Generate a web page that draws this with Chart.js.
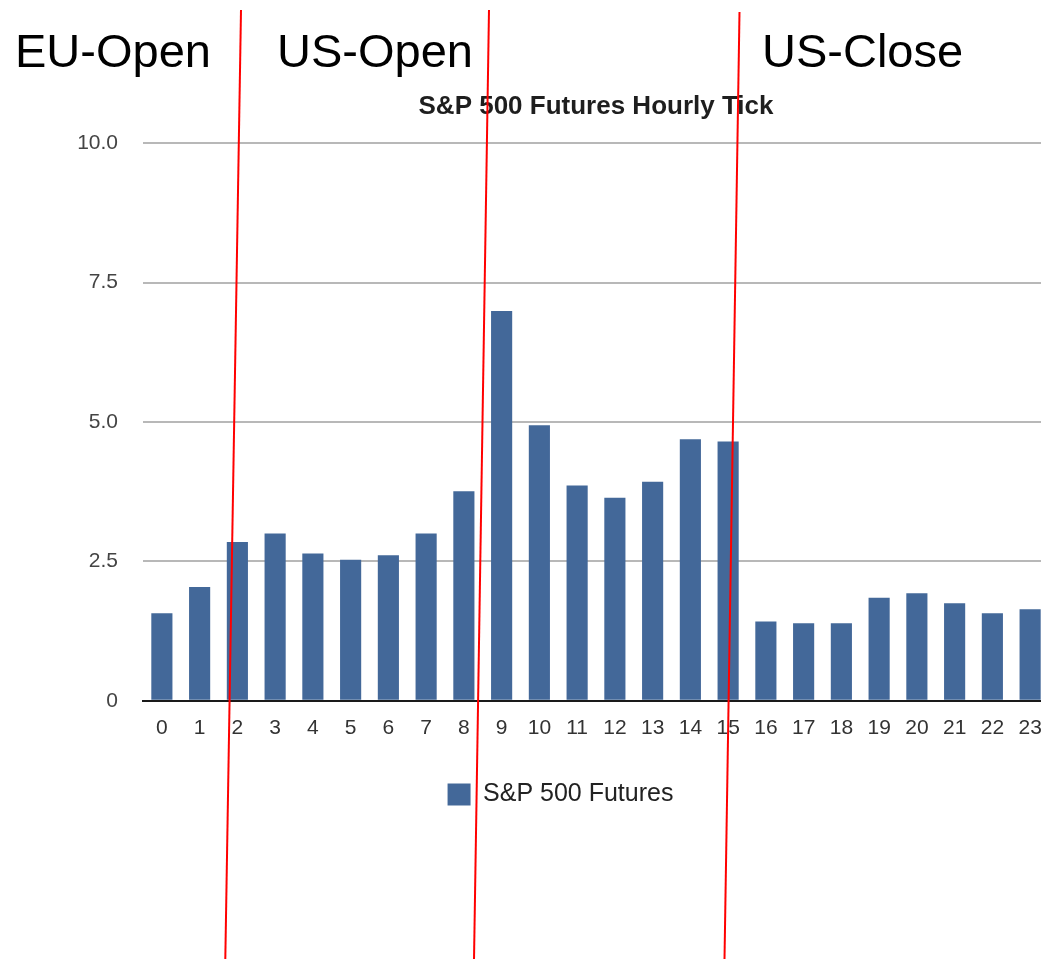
<!DOCTYPE html>
<html>
<head>
<meta charset="utf-8">
<title>S&amp;P 500 Futures Hourly Tick</title>
<script src="https://cdn.jsdelivr.net/npm/chart.js@4/dist/chart.umd.min.js"></script>
<style>
    html, body {
        margin: 0;
        padding: 0;
        background: #ffffff;
        overflow: hidden;
    }
    #wrap {
        position: relative;
        width: 1069px;
        height: 959px;
    }
    .session {
        position: absolute;
        font-family: "Liberation Sans", Arial, Helvetica, sans-serif;
        font-size: 47px;
        line-height: 1;
        color: #000000;
        white-space: nowrap;
    }
</style>
</head>
<body>
<div id="wrap">
    <canvas id="chart"></canvas>
    <div class="session" style="left:15px; top:27px;">EU-Open</div>
    <div class="session" style="left:277px; top:27px;">US-Open</div>
    <div class="session" style="left:762px; top:27px;">US-Close</div>
</div>
<script>
// Hours of the trading day
const hours = ['0', '1', '2', '3', '4', '5', '6', '7', '8', '9', '10', '11',
    '12', '13', '14', '15', '16', '17', '18', '19', '20', '21', '22', '23'];

// Average tick per hour
const futuresTicks = [1.57, 2.04, 2.85, 3.0, 2.64, 2.53, 2.61, 3.0, 3.76, 6.99, 4.94, 3.86,
    3.64, 3.93, 4.69, 4.65, 1.42, 1.39, 1.39, 1.85, 1.93, 1.75, 1.57, 1.64];

const yTickValues = [0, 2.5, 5, 7.5, 10];
const yTickLabels = ['0', '2.5', '5.0', '7.5', '10.0'];

// Hand drawn red session markers: [xTop, yTop, xBottom, yBottom]
const sessionLines = [
    [241, 10, 225.3, 959],
    [489, 10, 474, 959],
    [739.5, 12, 724.5, 959]
];

const FONT = '"Liberation Sans", Arial, Helvetica, sans-serif';
const BAR_COLOR = '#436899';

const sessionLinePlugin = {
    id: 'sessionLines',
    afterDraw(chart) {
        const ctx = chart.ctx;
        ctx.save();
        ctx.strokeStyle = '#ff0000';
        ctx.lineWidth = 2;
        sessionLines.forEach(([x1, y1, x2, y2]) => {
            ctx.beginPath();
            ctx.moveTo(x1, y1);
            ctx.lineTo(x2, y2);
            ctx.stroke();
        });
        ctx.restore();
    }
};

const canvas = document.getElementById('chart');
canvas.width = 1069;
canvas.height = 959;

new Chart(canvas, {
    type: 'bar',
    data: {
        labels: hours,
        datasets: [{
            label: 'S&P 500 Futures',
            data: futuresTicks,
            backgroundColor: BAR_COLOR,
            borderWidth: 0,
            barPercentage: 0.56,
            categoryPercentage: 1.0
        }]
    },
    options: {
        responsive: false,
        animation: false,
        devicePixelRatio: 1,
        layout: {
            padding: { left: 72, right: 20, top: 0, bottom: 142 }
        },
        scales: {
            x: {
                grid: { display: false, drawTicks: false },
                border: { display: true, color: '#1a1a1a', width: 2 },
                ticks: {
                    color: '#333333',
                    padding: 15,
                    maxRotation: 0,
                    autoSkip: false,
                    font: { family: FONT, size: 21 }
                }
            },
            y: {
                min: 0,
                max: 10,
                afterFit(scale) {
                    scale.width = 71;
                },
                afterBuildTicks(scale) {
                    scale.ticks = yTickValues.map((v) => ({ value: v }));
                },
                grid: {
                    drawTicks: false,
                    color: '#b8b8b8',
                    lineWidth: 2
                },
                border: { display: false },
                ticks: {
                    color: '#444444',
                    padding: 25,
                    font: { family: FONT, size: 21 },
                    callback: function(value) {
                        const i = yTickValues.indexOf(value);
                        return i >= 0 ? yTickLabels[i] : '';
                    }
                }
            }
        },
        plugins: {
            title: {
                display: true,
                text: 'S&P 500 Futures Hourly Tick',
                fullSize: false,
                color: '#1e1e1e',
                font: { family: FONT, size: 26, weight: 'bold' },
                padding: { top: 91, bottom: 21 }
            },
            legend: {
                display: true,
                position: 'bottom',
                labels: {
                    boxWidth: 23,
                    boxHeight: 22,
                    padding: 26,
                    color: '#222222',
                    font: { family: FONT, size: 25 }
                }
            },
            tooltip: { enabled: false }
        }
    },
    plugins: [sessionLinePlugin]
});
</script>
</body>
</html>
